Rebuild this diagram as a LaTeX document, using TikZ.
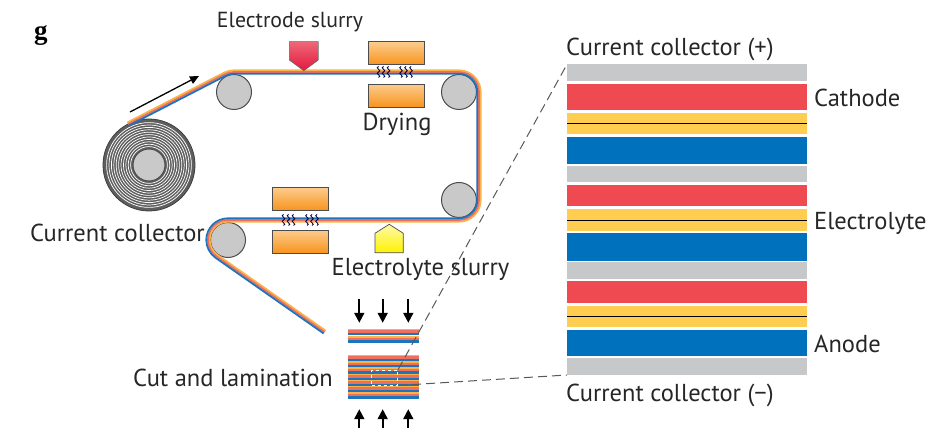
\documentclass[tikz,border=0pt]{standalone}
\usepackage{fontspec}
\setmainfont{PT Sans}
\newfontfamily\panelfont{Liberation Serif}
\usetikzlibrary{arrows.meta,calc}

\definecolor{cgray}{HTML}{C7C8CA}
\definecolor{cred}{HTML}{EF4A51}
\definecolor{cyellow}{HTML}{FFCD4F}
\definecolor{cblue}{HTML}{0071BC}
\definecolor{weborange}{HTML}{FBB347}
\definecolor{webred}{HTML}{EF6F5E}
\definecolor{webblue}{HTML}{1C75BC}
\definecolor{rollerfill}{HTML}{C9C9CA}
\definecolor{rollgray}{HTML}{5E5E5E}
\definecolor{heatlight}{HTML}{FDCB8C}
\definecolor{heatdark}{HTML}{F7941D}
\definecolor{slurrytop}{HTML}{EE6878}
\definecolor{slurryred}{HTML}{E3173E}
\definecolor{slurrypale}{HTML}{FFF9A8}
\definecolor{slurryyellow}{HTML}{FFF200}

\begin{document}
\begin{tikzpicture}[x=1pt,y=1pt,
  roller/.style={draw=black!70, line width=1pt, circle, fill=rollerfill, minimum size=35pt, inner sep=0pt},
  heater/.style={draw=black!70, line width=0.8pt, top color=heatlight, bottom color=heatdark, minimum width=56pt, minimum height=23pt, inner sep=0pt},
  wave/.style={draw=black!75!blue, line width=0.8pt},
  lbl/.style={text=black!85, font=\fontsize{24.5}{28}\selectfont, inner sep=0pt},
  feed/.style={-{Triangle[length=9pt,width=8pt]}, line width=1.3pt},
  push/.style={-{Triangle[length=10pt,width=10pt]}, line width=1.8pt},
  zoomline/.style={draw=black!65, line width=1pt, dash pattern=on 9pt off 5pt}]
\useasboundingbox (0,0) rectangle (943,428);

% feed roll of current collector
\node[circle, fill=rollgray, draw=black!75, line width=0.8pt, minimum size=92pt, inner sep=0pt] (roll) at (149,263) {};
\foreach \r in {18.4,20.8,...,44.5}
  \draw[white, line width=0.7pt] (roll.center) circle[radius=\r];
\node[roller, minimum size=32pt] (hub) at (roll.center) {};

% guide rollers
\node[roller] (r1) at (234,336) {};
\node[roller] (r2) at (459,336) {};
\node[roller] (r3) at (459,228) {};
\node[roller] (r4) at (228,188) {};

% coated web, three layers
\foreach \d/\c in {1.7/weborange, 0/webred, -1.7/webblue}
  \draw[\c, line width=1.8pt] ($(roll)+(117.2:{46+(\d)})$) -- ($(r1)+(117.2:{20+(\d)})$)
    arc[start angle=117.2, end angle=90, radius={20+(\d)}] -- ($(r2)+(90:{20+(\d)})$)
    arc[start angle=90, end angle=0, radius={20+(\d)}] -- ($(r3)+(0:{20+(\d)})$)
    arc[start angle=0, end angle=-90, radius={20+(\d)}] -- ($(r4)+(90:{20-(\d)})$)
    arc[start angle=90, end angle=235, radius={20-(\d)}] -- ++(-35:132);

\draw[feed] (130,316) -- (199,352);

% slurry heads
\draw[black!60, line width=0.6pt, top color=slurrytop, bottom color=slurryred]
  (289.3,386.3) -- (318.3,386.3) -- (318.3,368) -- (303.8,357.3) -- (289.3,368) -- cycle;
\draw[black!70, line width=0.7pt, top color=slurrypale, bottom color=slurryyellow]
  (375,175.3) -- (403.3,175.3) -- (403.3,194.7) -- (389.2,203.7) -- (375,194.7) -- cycle;

% dryers
\node[heater] (h1) at (396.2,374.6) {};
\node[heater] (h2) at (396.2,332.4) {};
\node[heater] (h3) at (300.8,229) {};
\node[heater] (h4) at (300.8,186.4) {};
\foreach \x in {378.5,383.5,388.5,401,406,411}
  \draw[wave] (\x,350.5) .. controls +(4.5,1.5) and +(-4.5,-1.5) .. ++(0,5.5) .. controls +(4.5,1.5) and +(-4.5,-1.5) .. ++(0,5.5);
\foreach \x in {283.5,288.5,293.5,307,312,317}
  \draw[wave] (\x,202.5) .. controls +(4.5,1.5) and +(-4.5,-1.5) .. ++(0,5.5) .. controls +(4.5,1.5) and +(-4.5,-1.5) .. ++(0,5.5);

% cut sheets and laminated stack
\node[minimum width=71pt, minimum height=15pt, inner sep=0pt] (topstack) at (383.8,91.5) {};
\node[minimum width=71pt, minimum height=43.7pt, inner sep=0pt] (stack) at (383.8,51.15) {};
\foreach \y in {99,91.5} {
  \fill[weborange] (348.3,\y) rectangle (419.3,\y-1.4);
  \fill[webred] (348.3,\y-1.4) rectangle (419.3,\y-4);
  \fill[webblue] (348.3,\y-4) rectangle (419.3,\y-6.5);
}
\foreach \i [evaluate=\i as \y using 73-6.24*\i] in {0,...,6} {
  \fill[weborange] (348.3,\y) rectangle (419.3,\y-1.3);
  \fill[webred] (348.3,\y-1.3) rectangle (419.3,\y-3.8);
  \fill[webblue] (348.3,\y-3.8) rectangle (419.3,\y-6.24);
}
\node[draw=white, dashed, line width=0.9pt, minimum width=26pt, minimum height=15pt, inner sep=0pt] (zoombox) at (384.7,50.5) {};
\foreach \x in {-24.5,-1.1,24.5} {
  \draw[push] ([xshift=\x]topstack.north) ++(0,30) -- ++(0,-24);
  \draw[push] ([xshift=\x]stack.south) ++(0,-29.3) -- ++(0,19);
}

% enlarged cell layers
\foreach \t/\b/\c in {363.7/347/cgray, 344/318/cred, 315.3/294/cyellow, 291.3/264/cblue,
    262.3/245.7/cgray, 243/222/cred, 218.7/197/cyellow, 194.7/167.3/cblue,
    165.7/149/cgray, 147/125.3/cred, 122.3/100.7/cyellow, 98/72.3/cblue, 69.7/53/cgray}
  \fill[\c] (567,\t) rectangle (807,\b);
\foreach \y in {304.6,207.9,111.5}
  \draw[line width=0.9pt] (567,\y) -- (807,\y);
\coordinate (panelNW) at (567,363.7);
\coordinate (panelSW) at (567,53);
\draw[zoomline] (zoombox.north east) -- (panelNW);
\draw[zoomline] (zoombox.south east) -- (panelSW);

% labels
\node[anchor=base, font=\panelfont\bfseries\fontsize{27}{27}\selectfont] (g) at (41,388) {g};
\node[lbl, anchor=base, font=\fontsize{21.8}{26}\selectfont] (t1) at (290,400) {Electrode slurry};
\node[lbl, anchor=base] (t2) at (397,297) {Drying};
\node[lbl, anchor=base east] (t3) at (205,186.3) {Current collector};
\node[lbl, anchor=base] (t4) at (420.5,152.3) {Electrolyte slurry};
\node[lbl, anchor=base east] (t5) at (333,41.3) {Cut and lamination};
\node[lbl, anchor=base west] (t6) at (566,372) {Current collector (+)};
\node[lbl, anchor=base west] (t7) at (814,321.3) {Cathode};
\node[lbl, anchor=base west] (t8) at (814,198.7) {Electrolyte};
\node[lbl, anchor=base west] (t9) at (814,75.3) {Anode};
\node[lbl, anchor=base west] (t10) at (566,26.3) {Current collector (−)};
\end{tikzpicture}
\end{document}
